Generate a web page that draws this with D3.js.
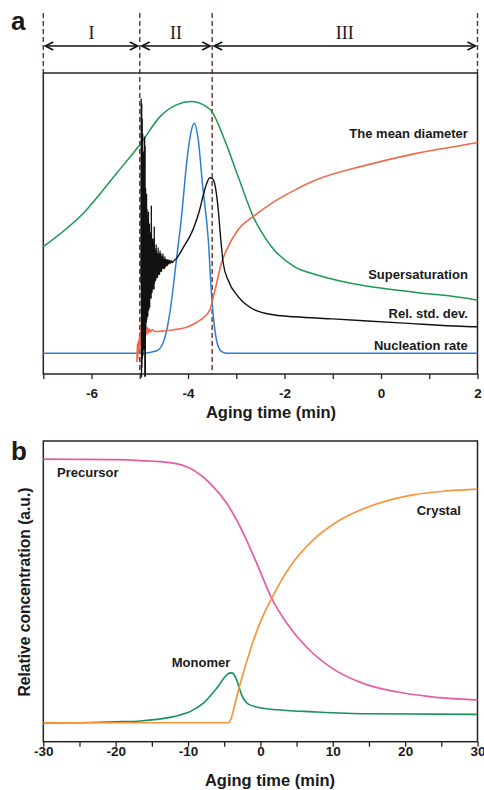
<!DOCTYPE html>
<html>
<head>
<meta charset="utf-8">
<script src="https://cdn.jsdelivr.net/npm/d3@7"></script>
<style>
body { margin: 0; background: #fff; }
text { font-family: Arial, "Liberation Sans", sans-serif; font-weight: bold; fill: #1a1a1a; }
</style>
</head>
<body>
<svg id="chart" width="484" height="790"></svg>
<script>
// ---- panel a data : [aging time (min), relative value] ----
const phaseBounds = [-7, -5, -3.5, 2];
const phaseNames = ["I", "II", "III"];

const supersaturation = [
  [-7, 0.423], [-6.17, 0.534], [-5.48, 0.667], [-4.98, 0.766], [-4.58, 0.855], [-4.24, 0.894],
  [-3.93, 0.905], [-3.62, 0.888], [-3.53, 0.877], [-3.24, 0.777], [-2.96, 0.655], [-2.65, 0.523],
  [-2.27, 0.423], [-1.79, 0.356], [-1.34, 0.33], [-0.30, 0.292], [0.73, 0.271], [1.97, 0.246],
  [2, 0.245]
];

const nucleationRate = [
  [-7, 0.069], [-4.93, 0.069], [-4.65, 0.077], [-4.52, 0.102], [-4.38, 0.20], [-4.24, 0.38],
  [-4.13, 0.53], [-4.03, 0.70], [-3.93, 0.81], [-3.87, 0.833], [-3.79, 0.78], [-3.70, 0.63],
  [-3.58, 0.445], [-3.51, 0.257], [-3.41, 0.113], [-3.31, 0.075], [-3.2, 0.069], [2, 0.069]
];

const meanDiameter = [
  [-5.06, 0.04], [-5.05, 0.10], [-5.04, 0.05], [-5.03, 0.11], [-5.02, 0.07], [-5.01, 0.12],
  [-5.00, 0.08], [-4.99, 0.14], [-4.98, 0.10], [-4.97, 0.17], [-4.96, 0.12], [-4.95, 0.16],
  [-4.94, 0.11], [-4.93, 0.17], [-4.92, 0.13], [-4.91, 0.16], [-4.90, 0.12], [-4.89, 0.15],
  [-4.87, 0.13], [-4.85, 0.155], [-4.83, 0.135], [-4.81, 0.15], [-4.78, 0.14], [-4.74, 0.148],
  [-4.70, 0.142], [-4.65, 0.141], [-4.5, 0.143], [-4.3, 0.147], [-4.1, 0.152], [-3.86, 0.168],
  [-3.70, 0.185], [-3.55, 0.212], [-3.44, 0.279], [-3.31, 0.367], [-3.17, 0.423], [-2.96, 0.48],
  [-2.65, 0.523], [-2.27, 0.567], [-1.79, 0.611], [-1.34, 0.645], [-0.30, 0.694], [0.73, 0.733],
  [1.97, 0.768], [2, 0.769]
];

const relStdDev = [
  [-4.975, 0.30], [-4.970, 0.916], [-4.965, -0.012], [-4.960, 0.90], [-4.955, 0.02], [-4.950, 0.85],
  [-4.945, 0.05], [-4.940, 0.80], [-4.935, 0.06], [-4.930, 0.70], [-4.925, 0.10], [-4.920, 0.74],
  [-4.915, 0.08], [-4.910, 0.66], [-4.905, 0.14], [-4.900, 0.79], [-4.895, -0.01], [-4.890, 0.76],
  [-4.885, -0.01], [-4.880, 0.62], [-4.875, 0.15], [-4.870, 0.58], [-4.865, 0.17], [-4.860, 0.60],
  [-4.855, 0.18], [-4.850, 0.55], [-4.845, 0.20], [-4.840, 0.52], [-4.835, 0.19], [-4.830, 0.50],
  [-4.825, 0.22], [-4.820, 0.54], [-4.815, 0.21], [-4.810, 0.48], [-4.805, 0.24], [-4.800, 0.50],
  [-4.795, 0.22], [-4.790, 0.46], [-4.785, 0.25], [-4.780, 0.47], [-4.775, 0.26], [-4.770, 0.45],
  [-4.765, 0.25], [-4.760, 0.56], [-4.755, 0.27], [-4.750, 0.44], [-4.745, 0.27], [-4.740, 0.43],
  [-4.735, 0.28], [-4.730, 0.45], [-4.725, 0.29], [-4.720, 0.42], [-4.715, 0.30], [-4.710, 0.44],
  [-4.705, 0.28], [-4.700, 0.49], [-4.695, 0.30], [-4.690, 0.42], [-4.685, 0.31], [-4.680, 0.41],
  [-4.670, 0.31], [-4.660, 0.43], [-4.650, 0.32], [-4.640, 0.40], [-4.630, 0.32], [-4.620, 0.42],
  [-4.610, 0.33], [-4.600, 0.40], [-4.590, 0.33], [-4.580, 0.41], [-4.570, 0.34], [-4.560, 0.40],
  [-4.550, 0.34], [-4.540, 0.39], [-4.530, 0.35], [-4.520, 0.40], [-4.510, 0.35], [-4.500, 0.38],
  [-4.490, 0.35], [-4.480, 0.39], [-4.470, 0.355], [-4.460, 0.38], [-4.450, 0.36], [-4.440, 0.38],
  [-4.430, 0.36], [-4.415, 0.38], [-4.400, 0.365], [-4.385, 0.378], [-4.370, 0.368], [-4.350, 0.376],
  [-4.330, 0.37], [-4.300, 0.375],
  [-4.24, 0.384], [-4.10, 0.42], [-3.96, 0.458], [-3.86, 0.495], [-3.76, 0.545], [-3.69, 0.59],
  [-3.62, 0.63], [-3.55, 0.652], [-3.50, 0.65], [-3.45, 0.634], [-3.38, 0.556], [-3.32, 0.445],
  [-3.27, 0.368], [-3.17, 0.312], [-2.96, 0.257], [-2.62, 0.213], [-2.20, 0.196], [-1.79, 0.19],
  [-1.0, 0.183], [0.38, 0.170], [1.97, 0.157], [2, 0.157]
];

const ticksA = [-7, -6, -5, -4, -3, -2, -1, 0, 1, 2];

// ---- panel b data ----
const precursor = [
  [-30, 0.94], [-20, 0.938], [-16.6, 0.935], [-12.5, 0.928], [-9.72, 0.909], [-6.95, 0.859],
  [-4.65, 0.793], [-2.35, 0.693], [-0.5, 0.593], [1.56, 0.477], [3.63, 0.395], [6.40, 0.314],
  [9.62, 0.249], [14.2, 0.194], [18.8, 0.166], [23.4, 0.150], [30, 0.139]
];

const monomer = [
  [-30, 0.062], [-25, 0.063], [-20, 0.066], [-16.6, 0.069], [-12.5, 0.081], [-11.1, 0.089],
  [-9.72, 0.10], [-7.88, 0.128], [-6.03, 0.178], [-4.65, 0.222], [-4.3, 0.228], [-3.96, 0.229],
  [-3.6, 0.222], [-3.27, 0.205], [-2.9, 0.178], [-2.58, 0.155], [-2.1, 0.135], [-1.66, 0.125],
  [0.41, 0.111], [3.65, 0.104], [6.87, 0.10], [14.7, 0.093], [30, 0.091]
];

const crystal = [
  [-30, 0.063], [-4.42, 0.063], [-4.0, 0.08], [-3.5, 0.128], [-2.82, 0.19], [-1.44, 0.302],
  [-0.06, 0.395], [1.56, 0.477], [4.09, 0.582], [7.31, 0.671], [11.0, 0.737], [15.6, 0.787],
  [21.1, 0.821], [25.7, 0.834], [30, 0.840]
];

const ticksB = [-30, -25, -20, -15, -10, -5, 0, 5, 10, 15, 20, 25, 30];

// ---- drawing ----
const svg = d3.select("#chart");
const frameColor = "#2b2220";
const dashColor = "#6e2e22";

const xA = d3.scaleLinear().domain([-7, 2]).range([43.3, 477.5]);
const yA = d3.scaleLinear().domain([0, 1]).range([374, 73]);
const xB = d3.scaleLinear().domain([-30, 30]).range([43.3, 477.5]);
const yB = d3.scaleLinear().domain([0, 1]).range([741.7, 441]);

function drawLine(data, x, y, color, width) {
  const line = d3.line().x(d => x(d[0])).y(d => y(d[1])).curve(d3.curveMonotoneX);
  svg.append("path").datum(data)
    .attr("d", line)
    .attr("fill", "none")
    .attr("stroke", color)
    .attr("stroke-width", width)
    .attr("stroke-linejoin", "round");
}

function drawAxis(x, y, ticks, labelEvery, pad) {
  const axis = d3.axisBottom(x)
    .tickValues(ticks)
    .tickSize(5)
    .tickPadding(pad)
    .tickFormat(d => (d % labelEvery === 0 ? d : ""));
  const g = svg.append("g").attr("transform", "translate(0," + y + ")").call(axis);
  g.select(".domain").remove();
  g.selectAll(".tick line").attr("stroke", frameColor).attr("stroke-width", 1.3);
  g.selectAll(".tick text").style("font-size", "13.5px").attr("fill", "#1a1a1a")
    .style("font-family", "Arial, 'Liberation Sans', sans-serif").style("font-weight", "bold");
}

// panel a : phase bars
const topY = 13, arrowY = 46;
svg.append("g").selectAll("line").data(phaseBounds).enter().append("line")
  .attr("x1", d => xA(d)).attr("x2", d => xA(d))
  .attr("y1", topY)
  .attr("y2", (d, i) => (i === 0 || i === phaseBounds.length - 1) ? yA(1) : yA(0))
  .attr("stroke", dashColor).attr("stroke-width", 1.4)
  .attr("stroke-dasharray", "5,3");

for (let i = 0; i < phaseNames.length; i++) {
  const x0 = xA(phaseBounds[i]) + 2, x1 = xA(phaseBounds[i + 1]) - 2;
  svg.append("line").attr("x1", x0).attr("x2", x1).attr("y1", arrowY).attr("y2", arrowY)
    .attr("stroke", "#111").attr("stroke-width", 1.4);
  svg.append("path")
    .attr("d", `M${x0 + 8},${arrowY - 4}L${x0},${arrowY}L${x0 + 8},${arrowY + 4}` +
               `M${x1 - 8},${arrowY - 4}L${x1},${arrowY}L${x1 - 8},${arrowY + 4}`)
    .attr("fill", "none").attr("stroke", "#111").attr("stroke-width", 1.6);
  svg.append("text")
    .attr("x", (xA(phaseBounds[i]) + xA(phaseBounds[i + 1])) / 2).attr("y", 39)
    .attr("text-anchor", "middle")
    .style("font-family", "'Liberation Serif', 'Times New Roman', serif")
    .style("font-weight", "normal").style("font-size", "18px")
    .text(phaseNames[i]);
}

// panel a frame + curves
svg.append("rect").attr("x", xA(-7)).attr("y", yA(1))
  .attr("width", xA(2) - xA(-7)).attr("height", yA(0) - yA(1))
  .attr("fill", "none").attr("stroke", frameColor).attr("stroke-width", 1.5);

drawLine(supersaturation, xA, yA, "#1c9a52", 1.5);
drawLine(nucleationRate, xA, yA, "#2e7fd3", 1.5);
drawLine(meanDiameter, xA, yA, "#f26a4c", 1.6);
drawLine(relStdDev, xA, yA, "#111111", 1.4);
drawAxis(xA, yA(0), ticksA, 2, 9.4);

const labelsA = [
  ["The mean diameter", 0.80],
  ["Supersaturation", 0.332],
  ["Rel. std. dev.", 0.202],
  ["Nucleation rate", 0.096]
];
svg.append("g").selectAll("text").data(labelsA).enter().append("text")
  .attr("x", xA(1.8)).attr("y", d => yA(d[1]))
  .attr("dy", "0.35em").attr("text-anchor", "end")
  .style("font-size", "13px").text(d => d[0]);

svg.append("text").attr("x", 271).attr("y", 418).attr("text-anchor", "middle")
  .style("font-size", "16.5px").text("Aging time (min)");
svg.append("text").attr("x", 11).attr("y", 30).style("font-size", "26px").text("a");

// panel b
svg.append("rect").attr("x", xB(-30)).attr("y", yB(1))
  .attr("width", xB(30) - xB(-30)).attr("height", yB(0) - yB(1))
  .attr("fill", "none").attr("stroke", frameColor).attr("stroke-width", 1.5);

drawLine(monomer, xB, yB, "#17935a", 1.6);
drawLine(precursor, xB, yB, "#e95aa5", 1.7);
drawLine(crystal, xB, yB, "#f8943f", 1.7);
drawAxis(xB, yB(0), ticksB, 10, 0);

const labelsB = [
  ["Precursor", -28.1, 0.896],
  ["Crystal", 21.6, 0.768],
  ["Monomer", -12.25, 0.263]
];
svg.append("g").selectAll("text").data(labelsB).enter().append("text")
  .attr("x", d => xB(d[1])).attr("y", d => yB(d[2]))
  .attr("dy", "0.35em").style("font-size", "13px").text(d => d[0]);

svg.append("text").attr("x", 270).attr("y", 786).attr("text-anchor", "middle")
  .style("font-size", "16.5px").text("Aging time (min)");
svg.append("text").attr("transform", "translate(30,592) rotate(-90)")
  .attr("text-anchor", "middle").style("font-size", "15.6px")
  .text("Relative concentration (a.u.)");
svg.append("text").attr("x", 11).attr("y", 460).style("font-size", "26px").text("b");
</script>
</body>
</html>
